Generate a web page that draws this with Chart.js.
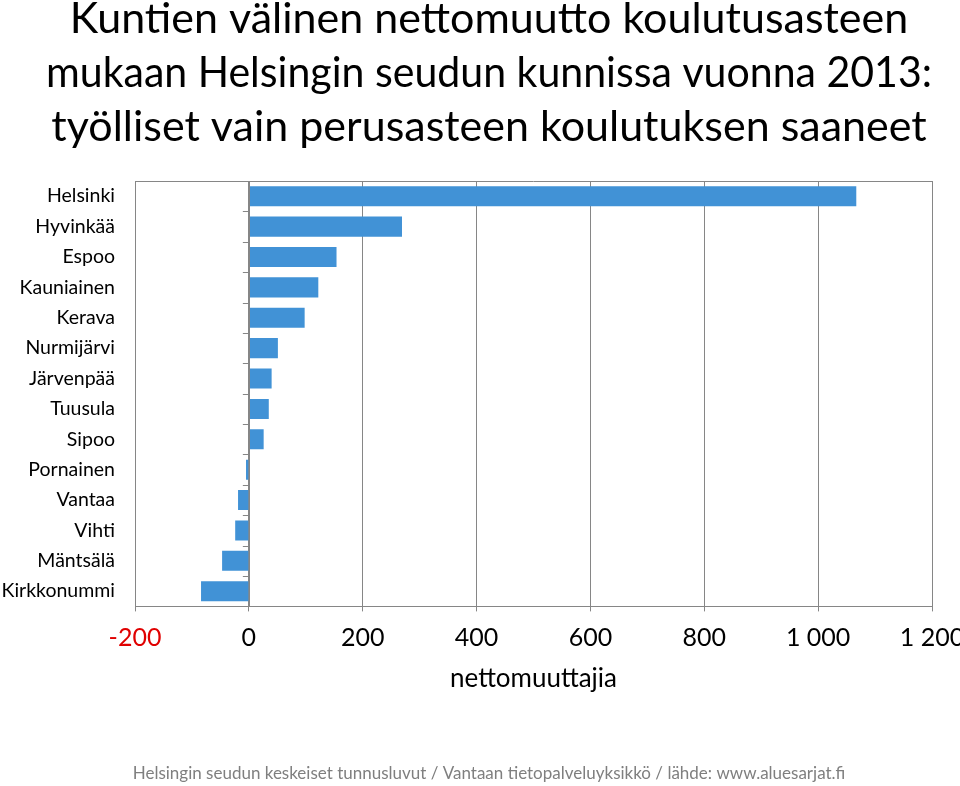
<!DOCTYPE html>
<html>
<head>
<meta charset="utf-8">
<script src="https://cdn.jsdelivr.net/npm/chart.js@4.4.1/dist/chart.umd.min.js"></script>
<style>
  html, body { margin: 0; padding: 0; background: #fff; }
  #wrap { width: 960px; height: 786px; }
</style>
</head>
<body>
<div id="wrap"><canvas id="myBarChartMuutto"></canvas></div>
<script>
const kunnat = ["Helsinki", "Hyvinkää", "Espoo", "Kauniainen", "Kerava", "Nurmijärvi", "Järvenpää",
  "Tuusula", "Sipoo", "Pornainen", "Vantaa", "Vihti", "Mäntsälä", "Kirkkonummi"];
const nettomuutto = [1067, 269, 154, 122, 98, 51, 40, 35, 26, -5, -19, -24, -47, -84];
const xMin = -200;
const xMax = 1200;
const xStep = 200;
const otsikko = [
  "Kuntien välinen nettomuutto koulutusasteen",
  "mukaan Helsingin seudun kunnissa vuonna 2013:",
  "työlliset vain perusasteen koulutuksen saaneet"
];
const akseliOtsikko = "nettomuuttajia";
const lahde = "Helsingin seudun keskeiset tunnusluvut / Vantaan tietopalveluyksikkö / lähde: www.aluesarjat.fi";

const harmaa = "#868686";

// kehys ylös + nolla-akselin väkäset luokkien väliin
const kehysPlugin = {
  id: "kehys",
  afterDatasetsDraw(chart) {
    const { ctx, chartArea: a, scales } = chart;
    const x0 = scales.x.getPixelForValue(0);
    ctx.save();
    ctx.strokeStyle = harmaa;
    ctx.lineWidth = 1;
    ctx.beginPath();
    ctx.moveTo(a.left, Math.round(a.top) + 0.5);
    ctx.lineTo(a.right, Math.round(a.top) + 0.5);
    ctx.moveTo(Math.round(x0) + 0.5, a.top);
    ctx.lineTo(Math.round(x0) + 0.5, a.bottom);
    for (let i = 1; i < kunnat.length; i++) {
      const y = Math.round((scales.y.getPixelForValue(i - 1) + scales.y.getPixelForValue(i)) / 2) + 0.5;
      ctx.moveTo(x0 - 6, y);
      ctx.lineTo(x0, y);
    }
    ctx.stroke();
    ctx.restore();
  }
};

const ctxMuutto = document.getElementById("myBarChartMuutto");

new Chart(ctxMuutto, {
  type: "bar",
  data: {
    labels: kunnat,
    datasets: [
      {
        data: nettomuutto,
        backgroundColor: "#4192D6",
        borderWidth: 0,
        barPercentage: 0.66,
        categoryPercentage: 1,
      },
    ],
  },
  options: {
    indexAxis: "y",
    responsive: true,
    maintainAspectRatio: false,
    animation: false,
    layout: { padding: { left: 46, right: 28, top: 0, bottom: 0 } },
    plugins: {
      legend: { display: false },
      tooltip: { enabled: false },
      title: {
        display: true,
        text: otsikko,
        color: "#000",
        font: { family: "Lato", size: 43, weight: "normal", lineHeight: 1.256 },
        padding: { top: -8, bottom: 27 },
      },
      subtitle: {
        display: true,
        position: "bottom",
        text: lahde,
        color: "#7F7F7F",
        font: { family: "Lato", size: 17, weight: "normal" },
        padding: { top: 69, bottom: 2 },
      },
    },
    scales: {
      x: {
        min: xMin,
        max: xMax,
        grid: { color: harmaa, tickLength: 5, drawTicks: true },
        border: { display: true, color: harmaa },
        ticks: {
          stepSize: xStep,
          autoSkip: false,
          maxRotation: 0,
          padding: 12,
          font: { family: "Lato", size: 25 },
          color: (c) => (c.tick && c.tick.value < 0 ? "#E00000" : "#000"),
          callback: (v) => String(v).replace(/\B(?=(\d{3})+(?!\d))/g, " "),
        },
        title: {
          display: true,
          text: akseliOtsikko,
          color: "#000",
          font: { family: "Lato", size: 26 },
          padding: { top: -2, bottom: 0 },
        },
        afterFit: (scale) => {
          scale.paddingLeft = 0;
          scale.paddingRight = 0;
        },
      },
      y: {
        grid: { display: false, drawTicks: false },
        border: { display: true, color: harmaa },
        ticks: {
          padding: 20,
          autoSkip: false,
          color: "#000",
          font: { family: "Lato", size: 19.5 },
        },
        afterFit: (scale) => {
          scale.width = 89;
          // nimet saavat ulottua akselin laatikon vasemmalle puolelle
          scale._computeLabelArea = () => undefined;
        },
      },
    },
  },
  plugins: [kehysPlugin],
});
</script>
</body>
</html>
